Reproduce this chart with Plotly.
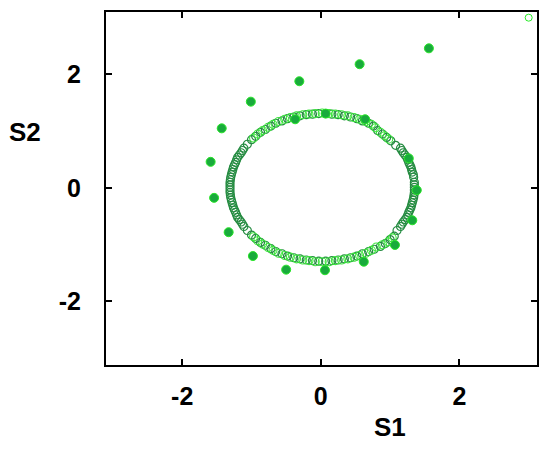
import plotly.graph_objects as go

# Filled markers (spiral trajectory converging onto the ring)
spiral_x = [1.56, 0.56, -0.31, -1.01, -1.43, -1.59, -1.54, -1.33, -0.98, -0.50, 0.06, 0.62, 1.07, 1.32, 1.385, 1.27, 0.64, 0.07, -0.37]
spiral_y = [2.46, 2.18, 1.88, 1.52, 1.05, 0.46, -0.175, -0.78, -1.20, -1.44, -1.45, -1.30, -1.005, -0.57, -0.04, 0.52, 1.21, 1.31, 1.21]

# Ring (limit cycle) - dark green open circles
ring_dark_x = [1.35, 1.35, 1.34, 1.32, 1.30, 1.27, 1.24, 1.19, 1.15, 1.08, 1.01, 0.95, 0.89, 0.82, 0.76, 0.69, 0.60, 0.52, 0.43, 0.34, 0.25, 0.16, 0.07,
               -0.03, -0.12, -0.21, -0.30, -0.39, -0.48, -0.56, -0.65, -0.72, -0.80, -0.87, -0.94, -1.00, -1.06, -1.11, -1.15, -1.20, -1.23, -1.26, -1.28, -1.30, -1.31,
               -1.31, -1.31, -1.30, -1.28, -1.26, -1.23, -1.20, -1.15, -1.11, -1.06, -1.00, -0.94, -0.87, -0.80, -0.72, -0.65, -0.56, -0.48, -0.39, -0.30, -0.21, -0.12, -0.03,
               0.07, 0.16, 0.25, 0.34, 0.43, 0.52, 0.60, 0.69, 0.77, 0.86, 0.93, 1.00, 1.06, 1.10, 1.15, 1.19, 1.24, 1.27, 1.30, 1.32, 1.34, 1.35]
ring_dark_y = [0.01, 0.10, 0.19, 0.28, 0.37, 0.45, 0.54, 0.62, 0.70, 0.75, 0.83, 0.89, 0.95, 1.01, 1.09, 1.14, 1.18, 1.22, 1.25, 1.27, 1.29, 1.30, 1.31,
               1.31, 1.30, 1.29, 1.27, 1.25, 1.22, 1.18, 1.14, 1.09, 1.03, 0.98, 0.91, 0.85, 0.77, 0.70, 0.62, 0.54, 0.45, 0.37, 0.28, 0.19, 0.10,
               0.01, -0.08, -0.17, -0.26, -0.35, -0.43, -0.52, -0.60, -0.68, -0.75, -0.83, -0.89, -0.96, -1.01, -1.07, -1.12, -1.16, -1.20, -1.23, -1.25, -1.27, -1.28, -1.29,
               -1.29, -1.28, -1.27, -1.25, -1.23, -1.20, -1.16, -1.12, -1.08, -1.03, -0.98, -0.91, -0.85, -0.75, -0.68, -0.60, -0.52, -0.43, -0.35, -0.26, -0.17, -0.08]

# Ring - additional dark circles filling the sides
ring_side_x = [1.35, 1.335, 1.31, 1.285, 1.255, 1.215, 1.17, -1.31, -1.305, -1.29, -1.27, -1.245, -1.215, -1.175, -1.13,
               -1.31, -1.305, -1.29, -1.27, -1.245, -1.215, -1.175, -1.13, 1.35, 1.345, 1.33, 1.31, 1.285, 1.255, 1.215, 1.17]
ring_side_y = [0.055, 0.235, 0.325, 0.41, 0.495, 0.58, 0.66, 0.055, 0.145, 0.235, 0.325, 0.41, 0.495, 0.58, 0.66,
               -0.035, -0.125, -0.215, -0.305, -0.39, -0.475, -0.56, -0.64, -0.035, -0.125, -0.215, -0.305, -0.39, -0.475, -0.56, -0.64]

# Ring - bright green open circles (top and bottom arcs)
ring_bright_x = [0.98, 0.92, 0.86, 0.79, 0.73, 0.65, 0.56, 0.48, 0.39, 0.30, 0.21, 0.12, 0.02, -0.08, -0.17, -0.26, -0.35, -0.44, -0.52, -0.61, -0.69, -0.76, -0.84, -0.91, -0.97,
                 -0.97, -0.91, -0.84, -0.76, -0.69, -0.61, -0.52, -0.44, -0.35, -0.26, -0.17, -0.08, 0.02, 0.12, 0.21, 0.30, 0.39, 0.48, 0.56, 0.65, 0.73, 0.80, 0.89, 0.97, 1.03]
ring_bright_y = [0.86, 0.92, 0.98, 1.06, 1.12, 1.17, 1.21, 1.24, 1.27, 1.29, 1.30, 1.31, 1.32, 1.31, 1.30, 1.29, 1.27, 1.24, 1.21, 1.17, 1.12, 1.07, 1.01, 0.95, 0.88,
                 -0.86, -0.93, -0.99, -1.05, -1.10, -1.15, -1.19, -1.22, -1.25, -1.27, -1.28, -1.30, -1.30, -1.30, -1.28, -1.27, -1.25, -1.22, -1.19, -1.15, -1.10, -1.04, -1.00, -0.95, -0.88]

# Stray open marker in the corner
corner_x = [3.0]
corner_y = [3.0]

x_ticks = [-2, 0, 2]
y_ticks = [-2, 0, 2]
x_title = "S1"
y_title = "S2"

# The page body has an 8px default margin; size the figure to compensate
OFF = 8
W, H = 550 - OFF, 451 - OFF
L, R, T, B = 106 - OFF, 13, 10 - OFF, 86

FONT = "Liberation Sans, Arial"
DARK = "rgb(38,140,66)"
BRIGHT = "rgb(60,230,60)"

fig = go.Figure()
fig.add_trace(go.Scatter(x=ring_dark_x, y=ring_dark_y, mode="markers",
                         marker=dict(symbol="circle-open", size=8, color=DARK, line=dict(width=1.2))))
fig.add_trace(go.Scatter(x=ring_side_x, y=ring_side_y, mode="markers",
                         marker=dict(symbol="circle-open", size=8, color=DARK, line=dict(width=1.2))))
fig.add_trace(go.Scatter(x=ring_bright_x, y=ring_bright_y, mode="markers",
                         marker=dict(symbol="circle-open", size=8, color=BRIGHT, line=dict(width=1.1))))
fig.add_trace(go.Scatter(x=spiral_x, y=spiral_y, mode="markers",
                         marker=dict(symbol="circle", size=9, color="rgb(25,170,60)",
                                     line=dict(color="rgb(40,230,40)", width=1))))
fig.add_trace(go.Scatter(x=corner_x, y=corner_y, mode="markers",
                         marker=dict(symbol="circle-open", size=7, color="rgb(40,235,40)", line=dict(width=1))))

axis_common = dict(showgrid=False, zeroline=False, showline=True, linecolor="black", linewidth=2,
                   ticks="inside", ticklen=6, tickwidth=1.5, tickcolor="black", mirror="ticks",
                   tickfont=dict(family=FONT, size=25, color="black", weight="bold"))

pw = W - L - R
ph = H - T - B


def px_to_paper(px, py):
    fx = px - OFF
    fy = py - OFF
    return (fx - L) / pw, (H - fy - B) / ph


sx, sy = px_to_paper(390, 427)
tx, ty = px_to_paper(25, 131)

fig.update_layout(
    width=W, height=H,
    margin=dict(l=L, r=R, t=T, b=B),
    plot_bgcolor="white", paper_bgcolor="white",
    showlegend=False,
    xaxis=dict(range=[-3.1, 3.12], tickvals=x_ticks, ticktext=[str(v) for v in x_ticks], ticklabelstandoff=8, **axis_common),
    yaxis=dict(range=[-3.12, 3.1], tickvals=y_ticks, ticktext=[str(v) for v in y_ticks], ticklabelstandoff=18, **axis_common),
    annotations=[
        dict(text="<b>" + x_title + "</b>", x=sx, y=sy, xref="paper", yref="paper", showarrow=False,
             xanchor="center", yanchor="middle", font=dict(family=FONT, size=26, color="black")),
        dict(text="<b>" + y_title + "</b>", x=tx, y=ty, xref="paper", yref="paper", showarrow=False,
             xanchor="center", yanchor="middle", font=dict(family=FONT, size=26, color="black")),
    ],
)

fig.write_html("out.html")
